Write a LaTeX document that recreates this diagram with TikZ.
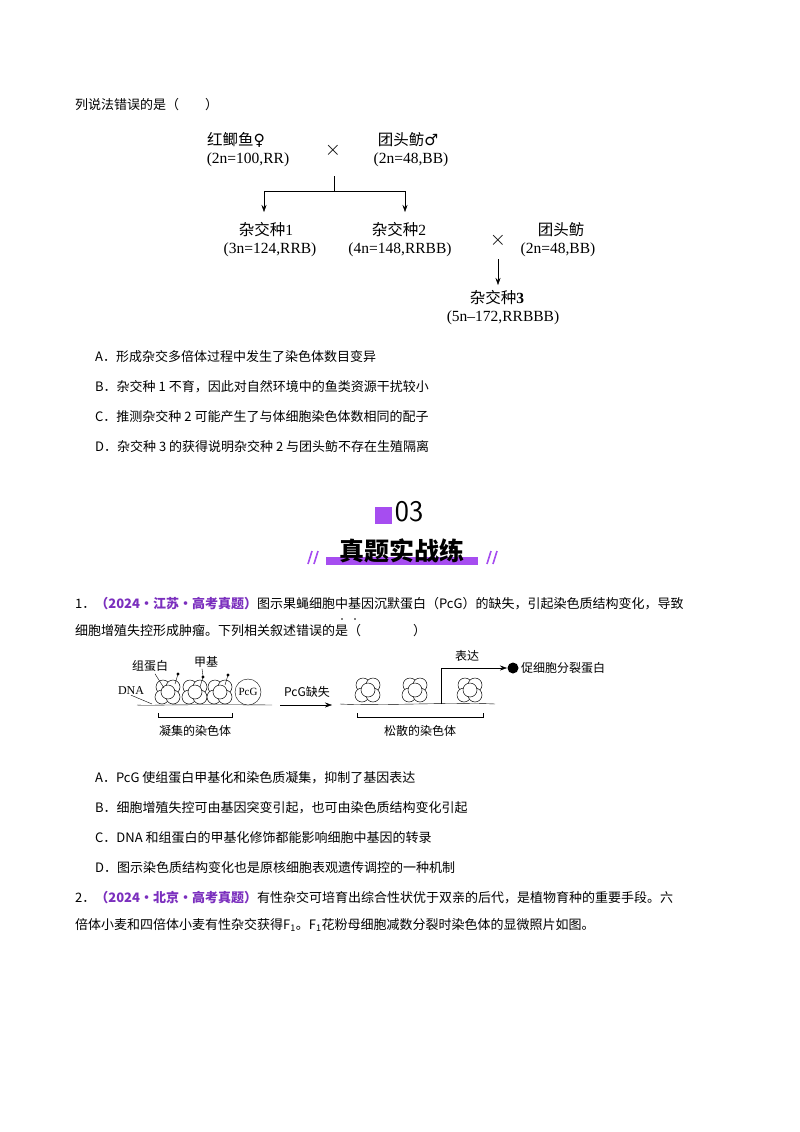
\documentclass[tikz,border=0pt]{standalone}
\usepackage{fontspec}
\setmainfont{Liberation Serif}
\newfontfamily\cjk{Noto Sans CJK SC}
\newfontfamily\symb{DejaVu Sans}
\definecolor{qpurple}{HTML}{7B2FBE}
\definecolor{barpurple}{HTML}{A64DF0}
\tikzset{
  body/.style={anchor=west,inner sep=0pt,font=\cjk\fontsize{13}{15}\selectfont},
  fig/.style={inner sep=0pt,font=\fontsize{15.5}{18}\selectfont},
  small/.style={inner sep=0pt,font=\cjk\fontsize{12}{14}\selectfont},
  arr/.style={-{Stealth[length=7pt,width=5pt]}},
  slash/.style={barpurple,line width=1.6pt},
}
\newcommand{\nucl}[1]{%
  \foreach \dx/\dy in {-5/-6,5/-6,-6/4,5/4,0/-1}
    \draw[fill=white,line width=0.5pt] ($(#1)+(\dx,\dy)$) circle (7);
}
\usetikzlibrary{arrows.meta,calc}
\begin{document}
\begin{tikzpicture}[x=1pt,y=-1pt]
  \useasboundingbox (0,0) rectangle (800,1132);
  \fill[white] (0,0) rectangle (800,1132);

  \node[body] (q0) at (75,105) {列说法错误的是（　　）};

  % cross diagram
  \node[fig] (p1) at (236,140) {{\cjk 红鲫鱼}{\symb ♀}};
  \node[fig] (p1g) at (248,160) {(2n=100,RR)};
  \node[fig,font=\fontsize{20}{20}\selectfont] (x1) at (333,150) {$\times$};
  \node[fig] (p2) at (408,140) {{\cjk 团头鲂}{\symb ♂}};
  \node[fig] (p2g) at (411,160) {(2n=48,BB)};
  \coordinate (c0) at (334,176);
  \coordinate (c1) at (334,191);
  \node[fig] (h1) at (266,230) {{\cjk 杂交种}1};
  \node[fig] (h1g) at (270,250) {(3n=124,RRB)};
  \node[fig] (h2) at (399,230) {{\cjk 杂交种}2};
  \node[fig] (h2g) at (400,250) {(4n=148,RRBB)};
  \node[fig,font=\fontsize{20}{20}\selectfont] (x2) at (498,240) {$\times$};
  \node[fig] (p3) at (561,230) {\cjk 团头鲂};
  \node[fig] (p3g) at (558,250) {(2n=48,BB)};
  \node[fig] (h3) at (497,298) {{\cjk 杂交种}\textbf{3}};
  \node[fig] (h3g) at (503,318) {(5n--172,RRBBB)};
  \coordinate (t1) at (264,212);
  \coordinate (t2) at (405,212);
  \coordinate (s3) at (498,259);
  \coordinate (t3) at (498,285);
  \draw (c0) -- (c1);
  \draw[arr] (c1) -| (t1);
  \draw[arr] (c1) -| (t2);
  \draw[arr] (s3) -- (t3);

  \foreach \t [count=\i] in {A．形成杂交多倍体过程中发生了染色体数目变异,
      B．杂交种 1 不育，因此对自然环境中的鱼类资源干扰较小,
      C．推测杂交种 2 可能产生了与体细胞染色体数相同的配子,
      D．杂交种 3 的获得说明杂交种 2 与团头鲂不存在生殖隔离}
    \node[body] (a\i) at (95,327+30*\i) {\t};

  % section header
  \fill[barpurple] (375,507) rectangle (392,524);
  \node[inner sep=0pt,font=\fontsize{30}{30}\selectfont\sffamily] (num) at (409,512) {03};
  \fill[barpurple] (326,557) rectangle (478,565);
  \node[inner sep=0pt,font=\cjk\bfseries\fontsize{25}{25}\selectfont] (head) at (402,551) {真题实战练};
  \foreach \x in {308,314,487,493}
    \draw[slash] (\x,564) -- (\x+4,551);

  % question 1
  \node[body] (q1a) at (75,604) {1．{\color{qpurple}\bfseries （2024·江苏·高考真题）}图示果蝇细胞中基因沉默蛋白（PcG）的缺失，引起染色质结构变化，导致};
  \node[body] (q1b) at (75,631) {细胞增殖失控形成肿瘤。下列相关叙述错误的是（　　　　）};
  \foreach \x in {342,355}
    \fill (\x,619) circle (0.9);

  % chromatin
  \draw (137,705) .. controls (150,706) and (160,704) .. (272,705);
  \node[small,font=\fontsize{12}{14}\selectfont] (dna) at (131,691) {DNA};
  \draw (dna.south) -- (152,704);
  \foreach \x in {168,195,220} { \nucl{\x,693} }
  \node[draw,circle,minimum size=26pt,inner sep=0pt,fill=white,font=\fontsize{11}{12}\selectfont] (pcg) at (248,692) {PcG};
  \foreach \x/\y in {178/674,203/677,228/675} {
    \draw (\x-3,\y+10) -- (\x,\y);
    \fill (\x,\y) circle (1.6);
  }
  \node[small] (zdb) at (150,666) {组蛋白};
  \draw (zdb.south) ++(5,2) -- (164,688);
  \node[small] (jj) at (206,662) {甲基};
  \draw (jj.south) ++(-4,1) -- (203,676);
  \draw (158,713) -- (158,717) -- (232,717) -- (232,713);
  \node[small] (lab1) at (195,731) {凝集的染色体};
  \node[small] (loss) at (307,692) {PcG缺失};
  \coordinate (ar0) at (280,705);
  \coordinate (ar1) at (332,705);
  \draw[arr] (ar0) -- (ar1);
  \draw (340,704) .. controls (380,706) and (450,702) .. (495,704);
  \foreach \x in {368,415,470} { \nucl{\x,691} }
  \coordinate (ex0) at (441,704);
  \fill (513,668) circle (5.5);
  \coordinate (dot) at (507,668);
  \draw[arr] (ex0) |- (dot);
  \node[small] (bd) at (467,656) {表达};
  \node[small,anchor=west] (prot) at (521,668) {促细胞分裂蛋白};
  \draw (357,713) -- (357,717) -- (483,717) -- (483,713);
  \node[small] (lab2) at (420,731) {松散的染色体};

  \foreach \t [count=\i] in {A．PcG 使组蛋白甲基化和染色质凝集，抑制了基因表达,
      B．细胞增殖失控可由基因突变引起，也可由染色质结构变化引起,
      C．DNA 和组蛋白的甲基化修饰都能影响细胞中基因的转录,
      D．图示染色质结构变化也是原核细胞表观遗传调控的一种机制}
    \node[body] (b\i) at (95,748+30*\i) {\t};

  % question 2
  \node[body] (q2a) at (75,898) {2．{\color{qpurple}\bfseries （2024·北京·高考真题）}有性杂交可培育出综合性状优于双亲的后代，是植物育种的重要手段。六};
  \node[body] (q2b) at (75,925) {倍体小麦和四倍体小麦有性杂交获得F\textsubscript{1}。F\textsubscript{1}花粉母细胞减数分裂时染色体的显微照片如图。};
\end{tikzpicture}
\end{document}
